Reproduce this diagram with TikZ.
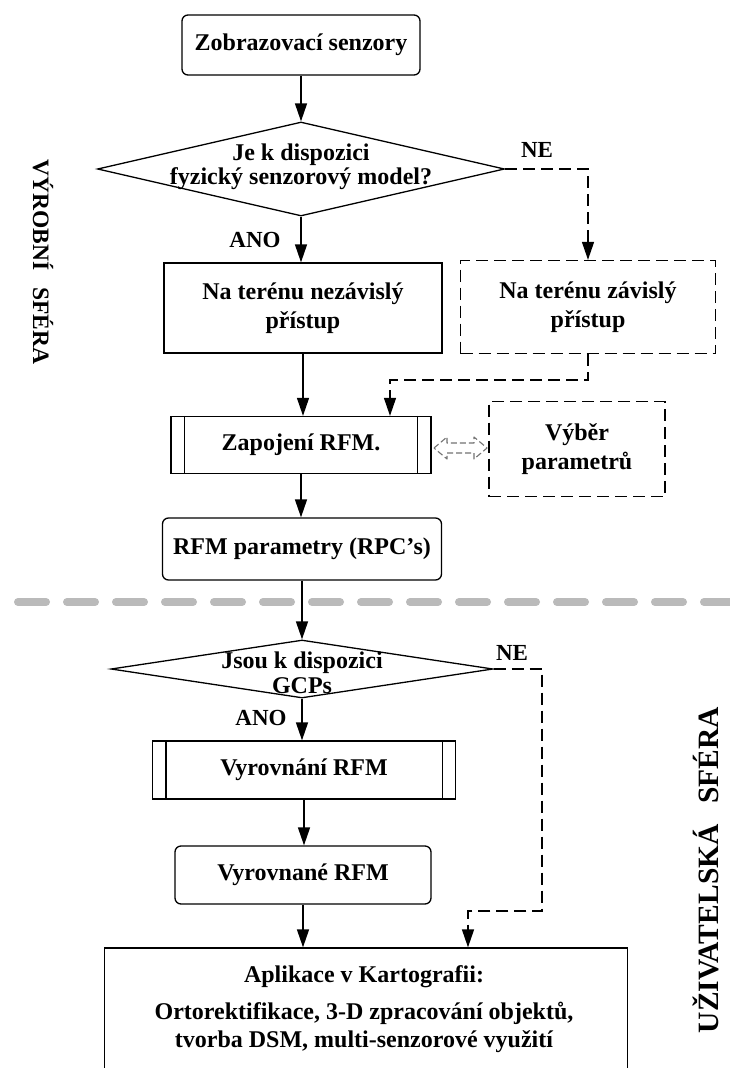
\documentclass[tikz,border=0pt]{standalone}
\usepackage{fontspec}
\setmainfont{Liberation Serif}
\usetikzlibrary{shapes.geometric,arrows.meta}
\begin{document}
\begin{tikzpicture}[x=1pt,y=-1pt,
  every node/.style={font=\bfseries\fontsize{24}{29}\selectfont, align=center, inner sep=0pt},
  conn/.style={line width=1.4pt, -{Triangle[length=18pt,width=12pt]}},
  dconn/.style={conn, dash pattern=on 12pt off 6pt},
  rbox/.style={draw, line width=1.3pt, rounded corners=6pt, minimum width=#1},
  pbox/.style={draw, line width=1.3pt, minimum width=#1},
  dbox/.style={draw, line width=1.3pt, dash pattern=on 12pt off 6pt, minimum width=#1},
  dec/.style={diamond, draw, line width=1.3pt},
  lbl/.style={font=\bfseries\fontsize{23}{23}\selectfont},
  dtxt/.style={font=\bfseries\fontsize{24}{24.5}\selectfont},
  sphere/.style={font=\bfseries\fontsize{#1}{#1}\selectfont},
  darrow/.style={draw=black!55, line width=1.1pt, dash pattern=on 6pt off 3pt, line join=round}
]
\useasboundingbox (0,0) rectangle (730,1068);
\clip (0,0) rectangle (730,1068);
\fill[white] (0,0) rectangle (730,1068);

% separator
\draw[line width=8pt, color=black!27, line cap=round, dash pattern=on 28pt off 21pt] (18,602) -- (730,602);

% side labels
\node[sphere=23.5, rotate=-90] (vs) at (43,262) {VÝROBNÍ\hspace{0.7em}SFÉRA};
\node[sphere=29.5, rotate=90] (us) at (706,870) {UŽIVATELSKÁ\hspace{0.7em}SFÉRA};

% nodes
\node[rbox=238pt, minimum height=60pt] (b1) at (301,45) {Zobrazovací senzory};
\node[dec, minimum width=407pt, minimum height=94pt] (d1) at (301,169) {};
\node[dtxt] (d1t) at (301,167) {Je k dispozici\\fyzický senzorový model?};
\node[pbox=278pt, minimum height=90pt] (b2) at (303,308) {Na terénu nezávislý\\přístup};
\node[dbox=255pt, minimum height=93pt] (b3) at (588,307) {Na terénu závislý\\přístup};
\node[pbox=260pt, minimum height=57pt] (b4) at (301,445) {Zapojení RFM.};
\draw[line width=1.3pt] ([xshift=14pt]b4.north west) -- ([xshift=14pt]b4.south west)
                        ([xshift=-14pt]b4.north east) -- ([xshift=-14pt]b4.south east);
\node[dbox=176pt, minimum height=95pt] (b5) at (577,449) {Výběr\\parametrů};
% hollow double arrow between b4 and b5
\draw[darrow] (434,448) -- (447,437) -- (447,443) -- (474,443) -- (474,437) -- (487,448)
  -- (474,459) -- (474,453) -- (447,453) -- (447,459) -- cycle;
\node[rbox=279pt, minimum height=62pt] (b6) at (302,549) {RFM parametry (RPC's)};
\node[dec, minimum width=382pt, minimum height=58pt] (d2) at (302,669) {};
\node[dtxt] (d2t) at (302,673) {Jsou k dispozici\\GCPs};
\node[pbox=303pt, minimum height=58pt] (b7) at (304,770) {Vyrovnání RFM};
\draw[line width=1.3pt] ([xshift=14pt]b7.north west) -- ([xshift=14pt]b7.south west)
                        ([xshift=-14pt]b7.north east) -- ([xshift=-14pt]b7.south east);
\node[rbox=256pt, minimum height=58pt] (b8) at (303,875) {Vyrovnané RFM};
\node[pbox=523pt, minimum height=150pt] (b9) at (366,1023) {};
\node (b9t) at (364,977) {Aplikace v Kartografii:};
\node[font=\bfseries\fontsize{24}{28}\selectfont] (b9b) at (364,1027) {Ortorektifikace, 3-D zpracování objektů,\\tvorba DSM, multi-senzorové využití};

% labels
\node[lbl] (ne1) at (537,150) {NE};
\node[lbl] (ano1) at (255,240) {ANO};
\node[lbl] (ne2) at (512,653) {NE};
\node[lbl] (ano2) at (261,718) {ANO};

% connectors
\coordinate (c1) at (390,380);
\coordinate (c2) at (542,669);
\coordinate (c3) at (542,911);
\coordinate (c4) at (468,911);
\draw[conn] (b1.south) -- (d1.north);
\draw[conn] (d1.south) -- (d1.south |- b2.north);
\draw[dconn] (d1.east) -| (b3.north);
\draw[conn] (b2.south) -- (b2.south |- b4.north);
\draw[dconn] (b3.south) |- (c1) -- (c1 |- b4.north);
\draw[conn] (b4.south) -- (b4.south |- b6.north);
\draw[conn] (b6.south) -- (b6.south |- d2.north);
\draw[conn] (d2.south) -- (d2.south |- b7.north);
\draw[conn] (b7.south) -- (b7.south |- b8.north);
\draw[conn] (b8.south) -- (b8.south |- b9.north);
\draw[dconn] (d2.east) -- (c2) -- (c3) -- (c4) -- (c4 |- b9.north);
\end{tikzpicture}
\end{document}
